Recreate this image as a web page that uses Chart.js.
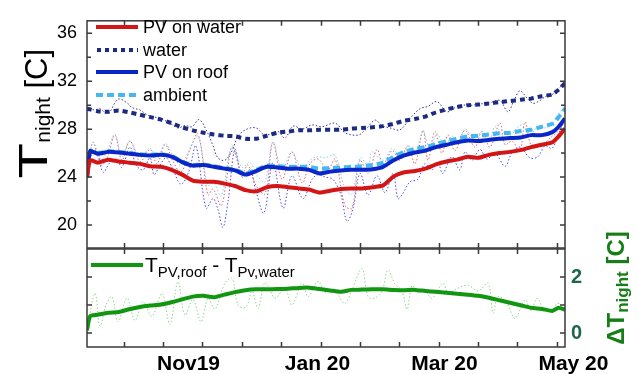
<!DOCTYPE html>
<html>
<head>
<meta charset="utf-8">
<script src="https://cdn.jsdelivr.net/npm/chart.js@4.4.0/dist/chart.umd.min.js"></script>
<style>
  html, body { margin: 0; padding: 0; background: #fff; }
  #wrap { position: relative; width: 638px; height: 374px; overflow: hidden; font-family: 'Liberation Sans', Arial, Helvetica, sans-serif; }
  canvas { position: absolute; left: 0; top: 0; }
  .lt { position: absolute; white-space: nowrap; font-size: 18px; line-height: 22px; color: #000; }
  .sw { position: absolute; }
  .rot { position: absolute; white-space: nowrap; text-align: center; transform: rotate(-90deg); }
</style>
</head>
<body>
<div id="wrap">
  <canvas id="cTop" width="638" height="374"></canvas>
  <canvas id="cBot" width="638" height="374"></canvas>

  <!-- top legend -->
  <svg class="sw" style="left:96px;top:24px" width="42" height="6"><line x1="0" y1="3" x2="42" y2="3" stroke="#d41515" stroke-width="4"/></svg>
  <div class="lt" style="left:143px;top:16px">PV on water</div>
  <svg class="sw" style="left:96px;top:47px" width="42" height="6"><line x1="1" y1="3" x2="42" y2="3" stroke="#1c2a82" stroke-width="4" stroke-dasharray="4 4"/></svg>
  <div class="lt" style="left:143px;top:39px">water</div>
  <svg class="sw" style="left:96px;top:69px" width="42" height="6"><line x1="0" y1="3" x2="42" y2="3" stroke="#0a26c8" stroke-width="4"/></svg>
  <div class="lt" style="left:143px;top:61px">PV on roof</div>
  <svg class="sw" style="left:96px;top:92px" width="42" height="6"><line x1="0" y1="3" x2="42" y2="3" stroke="#45b8f2" stroke-width="4" stroke-dasharray="7 4"/></svg>
  <div class="lt" style="left:143px;top:84px">ambient</div>

  <!-- bottom legend -->
  <svg class="sw" style="left:91px;top:262px" width="52" height="6"><line x1="0" y1="3" x2="52" y2="3" stroke="#109610" stroke-width="4"/></svg>
  <div class="lt" style="left:145px;top:254px;font-size:21px;line-height:22px">T<span style="font-size:15px;position:relative;top:5px">PV,roof</span> - T<span style="font-size:15px;position:relative;top:5px">Pv,water</span></div>

  <!-- left axis title -->
  <div class="rot" style="left:-67px;top:84px;width:200px;height:60px;line-height:60px;font-size:40px;color:#000"><span style="display:inline-block;transform:scaleX(1.45);margin:0 6px">T</span><span style="font-size:21px;position:relative;top:3px">night</span><span style="font-size:31px"> [C]</span></div>

  <!-- right axis title -->
  <div class="rot" style="left:516px;top:263px;width:200px;height:50px;line-height:50px;font-size:24px;font-weight:bold;color:#177d17">ΔT<span style="font-size:17px;position:relative;top:4px">night</span> [C]</div>
</div>

<script>
// ---------------- data ----------------
// x values are days after 14 Sep 2019
const smoothDays = [0,1.5,5,10,15,20,25,30,35,40,45,50,55,60,65,70,75,80,85,90,95,100,105,110,115,120,125,130,135,140,145,150,155,160,165,170,175,180,185,190,195,200,205,210,215,220,223,226];

const pvWaterSmooth = [24.0,25.4,25.2,25.45,25.3,25.2,25.1,24.9,24.85,24.6,24.2,23.7,23.6,23.6,23.45,23.25,22.9,22.8,23.15,23.25,23.15,23.05,22.95,22.7,22.85,23.0,23.05,23.05,23.15,23.3,24.05,24.4,24.5,24.7,25.05,25.3,25.45,25.7,25.6,25.85,26.0,26.1,26.25,26.5,26.7,26.9,27.4,28.05];
const pvRoofSmooth  = [24.0,26.15,25.95,26.1,26.05,25.95,25.85,25.8,25.85,25.7,25.25,24.95,25.0,24.85,24.7,24.55,24.2,24.5,24.85,24.8,24.7,24.7,24.6,24.3,24.45,24.55,24.6,24.6,24.65,24.85,25.4,25.8,26.05,26.2,26.5,26.7,26.9,27.05,27.0,27.1,27.2,27.25,27.3,27.5,27.5,27.75,28.2,28.9];
const ambientSmooth = [24.0,26.2,26.0,26.15,26.1,26.0,25.9,25.85,25.9,25.75,25.3,25.0,25.05,24.9,24.75,24.6,24.3,24.6,24.95,24.9,24.85,24.85,24.85,24.7,24.75,24.8,24.85,24.9,25.0,25.2,25.7,26.1,26.35,26.5,26.75,27.0,27.2,27.4,27.45,27.55,27.65,27.7,27.85,27.95,28.2,28.45,29.0,29.7];
const waterSmooth   = [29.7,29.65,29.5,29.45,29.55,29.4,29.2,29.0,28.8,28.5,28.15,27.9,27.7,27.55,27.45,27.4,27.2,27.2,27.45,27.7,27.8,27.9,27.9,27.95,27.95,27.95,28.05,28.1,28.15,28.25,28.45,28.7,28.85,29.05,29.4,29.65,29.85,30.0,30.05,30.15,30.25,30.35,30.45,30.55,30.75,30.9,31.3,31.85];
const diffSmooth    = [0.1,0.6,0.65,0.72,0.75,0.85,0.93,0.98,1.02,1.1,1.2,1.3,1.33,1.28,1.37,1.46,1.53,1.56,1.56,1.57,1.58,1.61,1.62,1.57,1.52,1.47,1.54,1.55,1.56,1.56,1.54,1.53,1.54,1.5,1.47,1.44,1.4,1.37,1.33,1.26,1.17,1.08,0.99,0.9,0.86,0.79,0.9,0.83];

// daily (dotted) series
const rawRedDays = [0,2.8,6.6,9.5,13.2,16.5,20.3,25.1,29.8,33.1,36.9,40.7,44.4,48.7,52.5,57.2,59.6,63.4,65.7,68.6,73.3,76.1,79.9,84.2,87.9,92.2,96.9,101.7,105.4,109.2,113.9,117.3,122.0,125.3,129.1,132.9,137.1,140.0,144.3,148.0,151.8,155.1,158.9,161.2,164.5,167.8,170.7,174.0,178.7,183.4,186.7,190.5,195.2,197.6,200.9,204.7,207.1,210.4,215.1,219.9,222.7,226];
const rawRed = [24.0,26.9,25.0,25.6,27.5,25.4,27.0,25.3,26.3,25.1,26.7,25.3,24.4,26.3,27.6,22.5,23.0,21.6,23.5,26.5,24.3,25.0,23.3,22.6,26.9,23.8,26.1,23.5,25.1,25.5,24.6,25.5,21.6,21.4,25.4,24.3,26.3,25.1,26.2,25.4,26.6,25.1,27.9,25.4,27.8,26.0,27.5,26.2,27.9,26.5,27.8,26.5,28.5,26.7,27.0,26.2,28.6,26.5,26.7,27.4,27.8,28.9];

const rawBlueDays = [0,2.4,4.7,7.6,10.9,14.2,16.5,20.3,23.2,26.5,29.8,31.7,34.5,37.4,40.2,44.4,48.2,51.5,56.3,59.6,61.9,64.3,66.7,70.0,73.3,77.1,79.9,83.7,87.9,92.7,96.9,102.1,106.4,109.2,112.5,116.3,120.1,122.9,125.8,129.1,132.9,137.1,140.9,144.7,147.0,148.9,152.7,156.4,159.7,163.0,165.9,168.2,172.5,176.2,178.7,182.0,185.8,189.1,192.9,197.6,200.9,204.7,209.5,213.2,216.5,219.9,222.7,226];
const rawBlue = [24.0,26.0,26.2,24.4,25.2,25.4,24.8,26.5,25.0,24.6,25.6,24.2,25.0,25.6,24.8,23.4,24.5,26.6,21.4,22.2,21.3,19.8,22.0,26.3,24.0,24.6,22.8,21.0,25.2,21.4,24.1,22.2,23.8,24.2,24.0,23.8,22.5,20.3,21.4,24.3,22.5,24.1,22.7,24.3,22.2,22.5,23.6,23.8,25.1,24.6,25.2,24.3,25.7,24.6,26.1,25.4,26.3,25.5,26.0,24.9,26.0,26.5,25.6,25.7,26.6,26.4,27.5,28.8];

const rawNavyDays = [0,3.3,6.1,9.9,14.7,18.9,21.3,25.1,28.8,34.5,39.2,43.0,46.3,49.6,53.0,56.7,59.6,61.9,65.2,68.6,71.4,75.6,79.9,84.2,90.3,93.6,97.4,101.7,106.4,111.1,117.3,122.0,128.1,131.4,136.2,139.5,143.3,148.0,152.7,157.4,161.2,165.4,170.2,174.0,177.8,182.0,185.8,190.5,195.2,199.0,201.9,204.7,208.0,210.9,214.2,217.5,219.9,222.2,226];
const rawNavy = [30.0,29.6,29.7,29.3,30.5,30.2,29.8,29.6,29.15,28.9,28.5,28.1,28.3,28.2,28.8,27.8,26.6,25.6,25.4,26.2,27.4,28.0,28.1,27.5,27.8,27.25,28.25,28.0,28.35,28.2,28.5,27.7,27.5,27.9,28.75,28.3,28.1,27.95,28.9,29.7,29.9,30.3,29.45,29.8,30.0,30.0,30.1,30.2,30.4,29.45,30.4,31.2,30.6,30.15,30.4,30.8,30.9,31.2,32.0];

const rawCyanDays = [0,2.8,6.6,9.9,13.2,16.5,20.3,25.1,29.8,33.1,36.9,40.7,44.4,48.7,52.5,57.2,60.0,63.4,68.6,73.3,77.1,80.9,84.2,87.9,92.2,96.9,101.7,105.4,109.2,112.5,117.3,122.0,125.3,129.1,132.9,134.8,140.0,144.3,148.0,151.8,155.1,158.9,162.2,165.4,169.3,172.6,175.4,178.7,183.4,186.7,190.5,192.9,197.6,200.9,205.2,209.5,213.2,216.5,219.9,222.7,226];
const rawCyan = [24.0,26.9,25.5,26.3,27.6,25.7,27.0,25.6,26.4,25.5,26.8,25.8,25.0,26.4,27.4,23.3,23.5,22.4,26.6,24.8,25.2,24.0,23.6,26.9,24.6,26.1,24.6,25.4,25.7,25.6,25.8,23.0,22.6,25.6,25.0,26.1,25.4,26.4,25.7,26.6,26.0,27.8,26.3,27.6,26.6,27.4,26.9,28.0,27.1,27.8,27.2,28.2,27.3,27.6,28.35,27.6,28.2,28.1,28.4,29.2,30.0];

const rawGreenDays = [0,3.8,6.1,9.0,11.8,14.7,18.9,22.7,26.5,30.7,35.5,39.2,43.0,46.3,50.1,53.9,57.2,60.5,65.2,68.6,71.4,75.2,78.0,80.9,84.2,88.9,93.6,96.9,101.7,104.5,109.2,112.5,115.4,117.3,122.0,125.3,130.0,132.9,136.2,139.5,142.3,145.6,148.9,151.3,153.7,156.5,159.8,163.1,168.3,170.7,175.4,180.1,184.9,189.6,192.0,194.3,198.6,202.4,207.1,209.9,212.8,216.5,219.9,222.7,226];
const rawGreen = [0.1,1.42,0.25,1.0,1.3,0.4,1.25,0.45,1.12,0.6,1.42,0.3,1.83,0.64,1.2,0.4,1.24,0.85,1.78,1.95,1.0,0.92,1.5,0.88,1.8,1.25,1.6,1.0,1.78,1.3,1.85,1.45,1.55,1.5,1.06,1.55,2.3,1.3,1.25,1.5,2.25,1.75,1.5,0.85,1.7,1.45,1.5,1.24,1.78,1.45,1.6,1.71,1.5,1.78,0.7,1.3,1.05,0.52,1.18,0.8,1.24,0.8,0.85,1.06,0.85];

// axes
const xTickDays = [17.4,36,54.6,73.2,91.8,110.4,129,147.6,166.2,184.8,203.4,222];
const xLabelDays = [48,109,169,230];
const xLabels = ['Nov19','Jan 20','Mar 20','May 20'];
const topYLabels = [20,24,28,32,36];
const topYMinor = [22,26,30,34];
const botYLabels = [0,2];
const botYTicks = [0,1,2];

// ---------------- chart ----------------
const FONT = "'Liberation Sans', Arial, Helvetica, sans-serif";
Chart.defaults.font.family = FONT;
const pts = (xs, ys) => xs.map((x, i) => ({ x: x, y: ys[i] }));

const framePlugin = {
  id: 'frameTicks',
  afterDatasetsDraw(chart, args, o) {
    const ctx = chart.ctx, a = chart.chartArea;
    const xs = chart.scales.x, ys = chart.scales[o.yId];
    ctx.save();
    ctx.strokeStyle = '#3a3a3a';
    ctx.lineWidth = 1.5;
    ctx.strokeRect(a.left, a.top, a.right - a.left, a.bottom - a.top);
    ctx.beginPath();
    o.xTicks.forEach(v => {
      const p = Math.round(xs.getPixelForValue(v)) + 0.5;
      ctx.moveTo(p, a.top); ctx.lineTo(p, a.top + 5);
      ctx.moveTo(p, a.bottom); ctx.lineTo(p, a.bottom - 5);
    });
    o.yMajor.forEach(v => {
      const p = ys.getPixelForValue(v);
      ctx.moveTo(a.left, p); ctx.lineTo(a.left + 5, p);
      ctx.moveTo(a.right, p); ctx.lineTo(a.right - 5, p);
    });
    o.yMinor.forEach(v => {
      const p = ys.getPixelForValue(v);
      ctx.moveTo(a.left, p); ctx.lineTo(a.left + 4, p);
      ctx.moveTo(a.right, p); ctx.lineTo(a.right - 4, p);
    });
    ctx.stroke();
    ctx.restore();
  }
};

function smoothDs(data, color, width, dash, order) {
  return { data: data, borderColor: color, borderWidth: width, borderDash: dash || [], pointRadius: 0, tension: 0.2, order: order, fill: false };
}
function rawDs(data, color, order) {
  return { data: data, borderColor: color, borderWidth: 1, borderDash: [1.5, 2], pointRadius: 0, tension: 0.35, order: order, fill: false };
}

new Chart(document.getElementById('cTop'), {
  type: 'line',
  data: {
    datasets: [
      smoothDs(pts(smoothDays, pvWaterSmooth), '#d41515', 4, null, 1),
      smoothDs(pts(smoothDays, pvRoofSmooth), '#0a26c8', 4, null, 2),
      smoothDs(pts(smoothDays, ambientSmooth), '#45b8f2', 4, [7, 4], 3),
      smoothDs(pts(smoothDays, waterSmooth), '#1c2a82', 4, [5, 4], 4),
      rawDs(pts(rawNavyDays, rawNavy), '#34349a', 5),
      rawDs(pts(rawCyanDays, rawCyan), '#7ccff7', 6),
      rawDs(pts(rawRedDays, rawRed), '#e46464', 7),
      rawDs(pts(rawBlueDays, rawBlue), '#4a4aff', 8)
    ]
  },
  options: {
    responsive: false, animation: false, events: [],
    layout: { padding: { left: 0, right: 73, top: 12, bottom: 126 } },
    plugins: { legend: { display: false }, tooltip: { enabled: false },
      frameTicks: { yId: 'y', xTicks: xTickDays, yMajor: topYLabels, yMinor: topYMinor } },
    scales: {
      x: { type: 'linear', min: 0, max: 226, display: false },
      y: { type: 'linear', min: 18.07, max: 37.05,
        afterFit: s => { s.width = 87; },
        afterBuildTicks: s => { s.ticks = topYLabels.map(v => ({ value: v })); },
        grid: { display: false, drawTicks: false }, border: { display: false },
        ticks: { color: '#000', padding: 10, font: { size: 18 } } }
    }
  },
  plugins: [framePlugin]
});

new Chart(document.getElementById('cBot'), {
  type: 'line',
  data: {
    datasets: [
      smoothDs(pts(smoothDays, diffSmooth), '#109610', 4, null, 1),
      rawDs(pts(rawGreenDays, rawGreen), '#8ed68e', 2)
    ]
  },
  options: {
    responsive: false, animation: false, events: [],
    layout: { padding: { left: 87, right: 0, top: 249, bottom: 0 } },
    plugins: { legend: { display: false }, tooltip: { enabled: false },
      frameTicks: { yId: 'y', xTicks: xTickDays, yMajor: botYTicks, yMinor: [] } },
    scales: {
      x: { type: 'linear', min: 0, max: 226, position: 'bottom',
        afterFit: s => { s.height = 27; },
        afterBuildTicks: s => { s.ticks = xLabelDays.map(v => ({ value: v })); },
        grid: { display: false, drawTicks: false }, border: { display: false },
        ticks: { autoSkip: false, maxRotation: 0, color: '#000', padding: 5,
          font: { size: 21, weight: 'bold' },
          callback: (v, i) => xLabels[i] } },
      y: { type: 'linear', position: 'right', min: -0.5, max: 3,
        afterFit: s => { s.width = 73; },
        afterBuildTicks: s => { s.ticks = botYLabels.map(v => ({ value: v })); },
        grid: { display: false, drawTicks: false }, border: { display: false },
        ticks: { color: '#1f6650', padding: 6, font: { size: 20, weight: 'bold' } } }
    }
  },
  plugins: [framePlugin]
});
</script>
</body>
</html>
